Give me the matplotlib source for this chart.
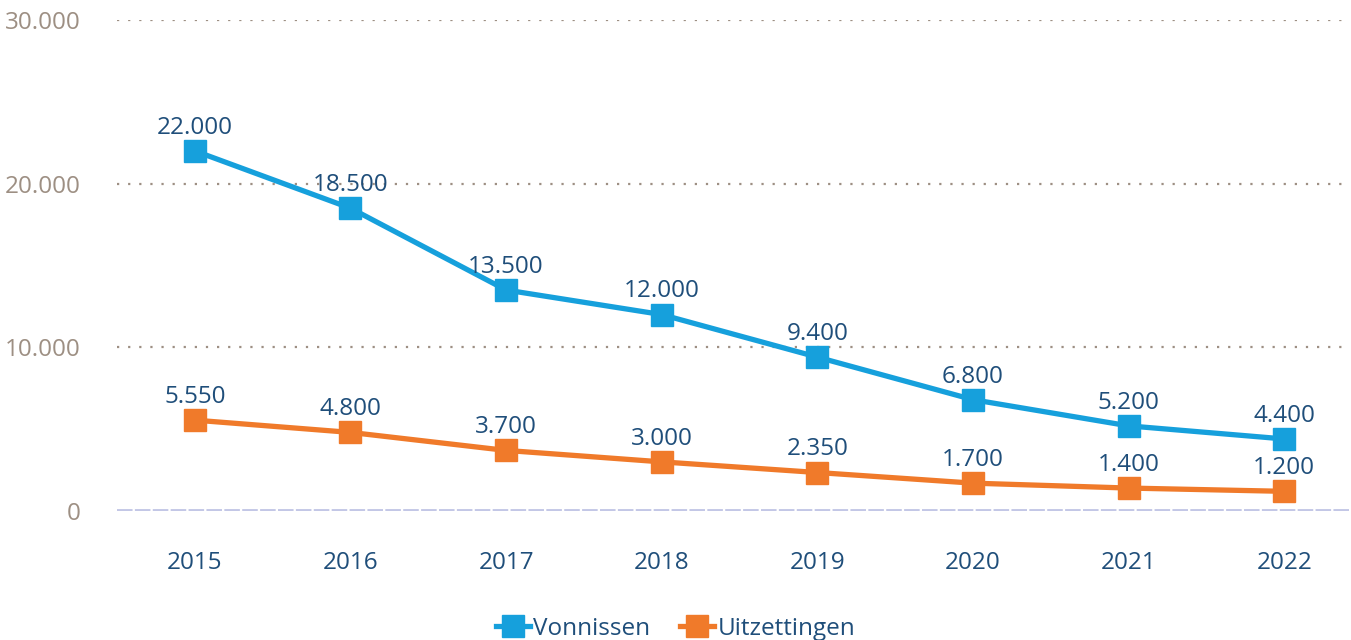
import matplotlib.pyplot as plt

years = ['2015', '2016', '2017', '2018', '2019', '2020', '2021', '2022']
vonnissen = [22000, 18500, 13500, 12000, 9400, 6800, 5200, 4400]
uitzettingen = [5550, 4800, 3700, 3000, 2350, 1700, 1400, 1200]
yticks = [0, 10000, 20000, 30000]

plt.rcParams['font.family'] = ['Open Sans', 'DejaVu Sans']

blue = '#16a0dc'
orange = '#f07a2a'
navy = '#1f4e7a'
grey = '#9d8f83'

def fmt(v):
    return f'{v:,}'.replace(',', '.')

fig = plt.figure(figsize=(13.51, 6.4), dpi=100)
ax = fig.add_axes([0.0866, 0.2016, 0.9124, 0.7672])

x = list(range(len(years)))
ax.plot(x, vonnissen, color=blue, lw=3.8, marker='s', ms=16, label='Vonnissen', zorder=3)
ax.plot(x, uitzettingen, color=orange, lw=3.8, marker='s', ms=16, label='Uitzettingen', zorder=3)

for series in (vonnissen, uitzettingen):
    for xi, v in zip(x, series):
        ax.annotate(fmt(v), (xi, v), xytext=(0, 8), textcoords='offset points',
                    ha='center', va='bottom', color=navy, fontsize=17.5)

for yv in yticks[1:]:
    ax.axhline(yv, color=grey, lw=1.6, ls=(0, (1, 4)), zorder=1)
ax.axhline(0, color='#c3c7e6', lw=2.8, ls=(0, (4, 0.6)), zorder=1)

ax.set_xlim(-0.5, 7.42)
ax.set_ylim(0, 30000)
ax.set_yticks(yticks)
ax.set_yticklabels([fmt(v) for v in yticks], color=grey, fontsize=17.5)
ax.set_xticks(x)
ax.set_xticklabels(years, color=navy, fontsize=17.5)
ax.tick_params(length=0)
ax.tick_params(axis='y', pad=26)
ax.tick_params(axis='x', pad=29)
for s in ax.spines.values():
    s.set_visible(False)
ax.set_facecolor('none')

fig.legend(loc='lower center', bbox_to_anchor=(0.5, -0.035), ncol=2, frameon=False,
           fontsize=17.5, labelcolor=navy, handlelength=1.4, columnspacing=1.2,
           handletextpad=0.15)

fig.savefig('out.png', dpi=100)
